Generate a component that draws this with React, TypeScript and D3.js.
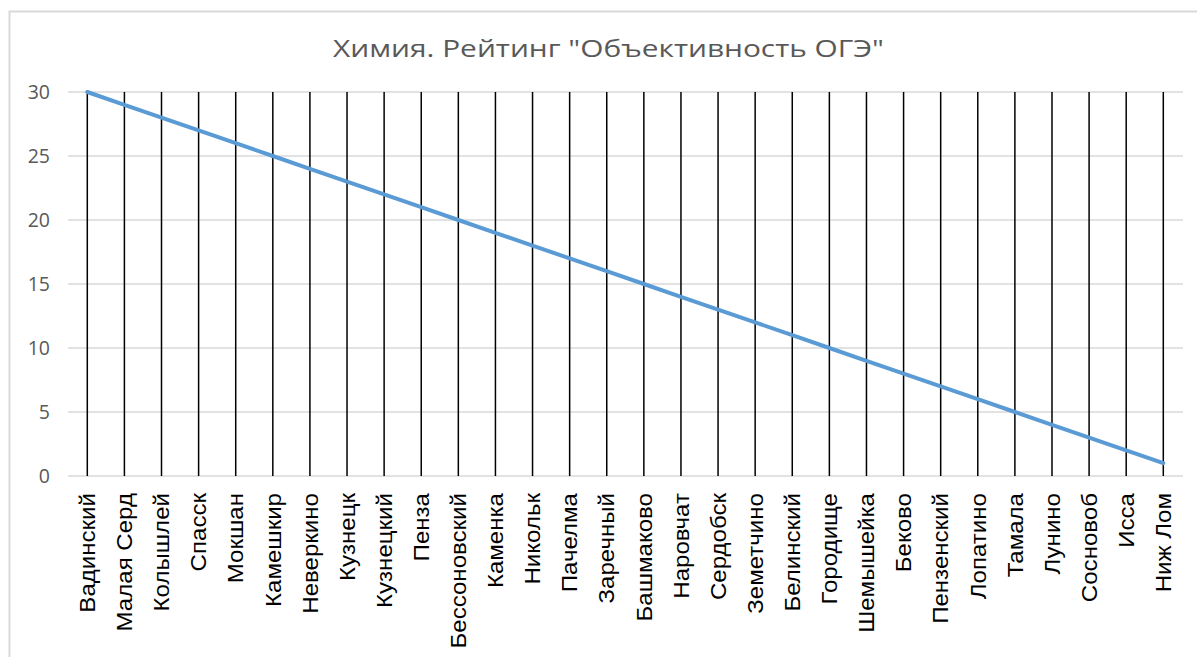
import React from "react";
import * as d3 from "d3";

// Districts, in chart order
const districts = [
  "Вадинский", "Малая Серд", "Колышлей", "Спасск", "Мокшан", "Камешкир",
  "Неверкино", "Кузнецк", "Кузнецкий", "Пенза", "Бессоновский", "Каменка",
  "Никольк", "Пачелма", "Заречный", "Башмаково", "Наровчат", "Сердобск",
  "Земетчино", "Белинский", "Городище", "Шемышейка", "Беково", "Пензенский",
  "Лопатино", "Тамала", "Лунино", "Сосновоб", "Исса", "Ниж Лом",
];

// Rating values
const rating = [
  30, 29, 28, 27, 26, 25, 24, 23, 22, 21, 20, 19, 18, 17, 16,
  15, 14, 13, 12, 11, 10, 9, 8, 7, 6, 5, 4, 3, 2, 1,
];

const yTicks = [0, 5, 10, 15, 20, 25, 30];

const title = 'Химия. Рейтинг "Объективность ОГЭ"';

const W = 1197;
const H = 657;

const App = () => {
  const x = d3.scalePoint<string>().domain(districts).range([87.3, 1163.3]);
  const y = d3.scaleLinear().domain([0, 30]).range([476, 92]);

  const line = d3
    .line<number>()
    .x((_, i) => x(districts[i]) as number)
    .y((d) => y(d));

  return (
    <svg
      width={W}
      height={H}
      style={{ position: "absolute", left: 0, top: 0, background: "#fff" }}
    >
      {/* chart frame */}
      <rect x={9.5} y={11.5} width={1300} height={800} fill="#fff" stroke="#d9d9d9" strokeWidth={2} />

      <text
        x={608.5}
        y={57}
        textAnchor="middle"
        fontFamily="'Open Sans', sans-serif"
        fontSize={23}
        textLength={551}
        lengthAdjust="spacingAndGlyphs"
        fill="#595959"
      >
        {title}
      </text>

      {/* horizontal gridlines */}
      {yTicks.map((t) => (
        <line key={t} x1={68} x2={1183} y1={y(t)} y2={y(t)} stroke="#d9d9d9" strokeWidth={1.3} />
      ))}

      {/* y tick labels */}
      {yTicks.map((t) => (
        <text
          key={"l" + t}
          x={50}
          y={y(t)}
          dy="0.36em"
          textAnchor="end"
          fontFamily="'Open Sans', sans-serif"
          fontSize={19.5}
          fill="#595959"
        >
          {t}
        </text>
      ))}

      {/* vertical category lines */}
      {districts.map((d) => (
        <line key={d} x1={x(d)} x2={x(d)} y1={y(30)} y2={y(0)} stroke="#000" strokeWidth={1.5} />
      ))}

      <path d={line(rating) ?? ""} fill="none" stroke="#5b9bd5" strokeWidth={4} strokeLinecap="round" />

      {/* category labels */}
      {districts.map((d) => (
        <text
          key={"c" + d}
          transform={`translate(${x(d)},493) rotate(-90) scale(1.12,1)`}
          dy="0.36em"
          textAnchor="end"
          fontFamily="'Liberation Sans', Arial, sans-serif"
          fontSize={21.5}
          fill="#000"
        >
          {d}
        </text>
      ))}
    </svg>
  );
};

export default App;
